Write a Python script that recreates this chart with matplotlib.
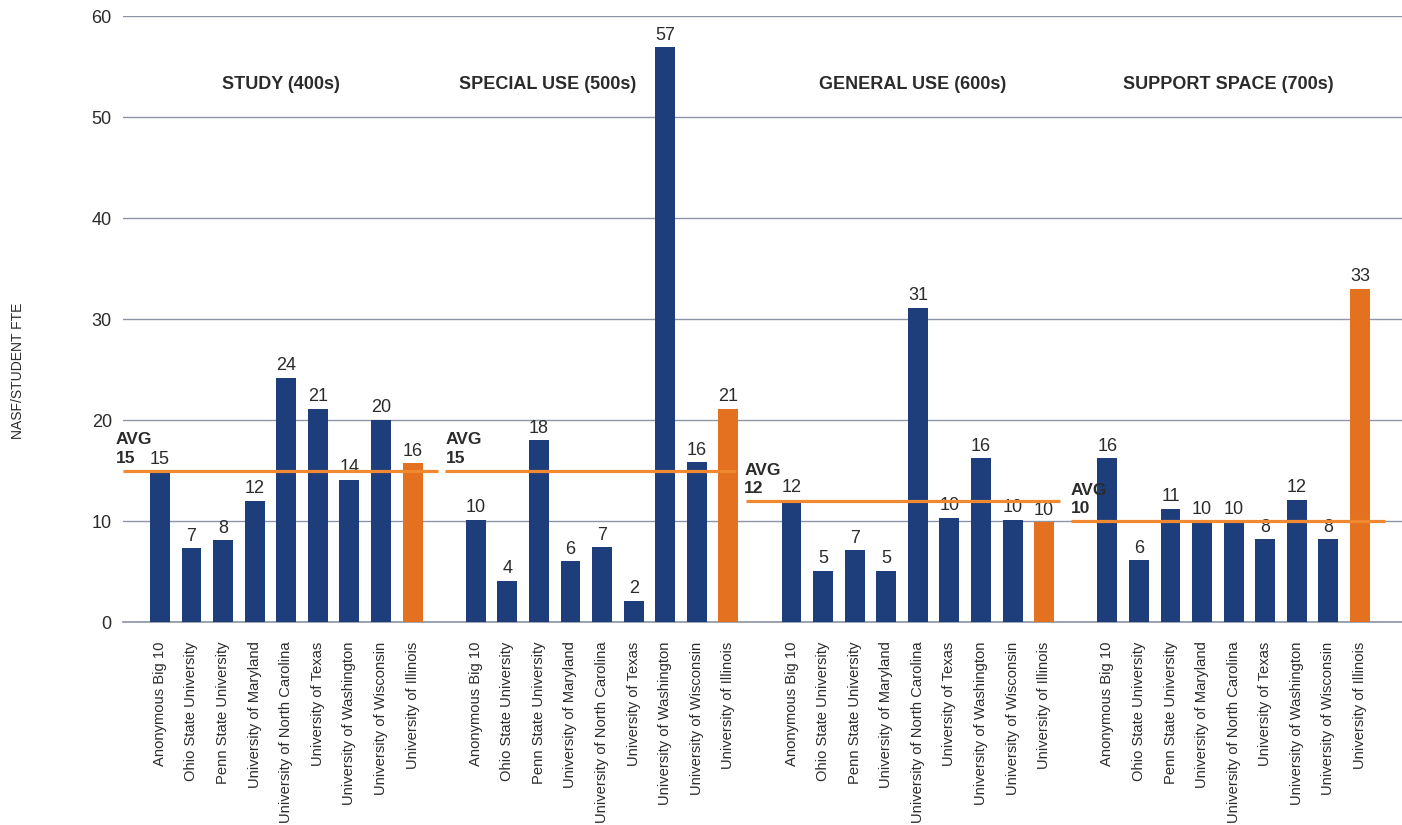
import numpy as np
import matplotlib
matplotlib.use('Agg')
import matplotlib.pyplot as plt

plt.rcParams['font.family'] = ['Liberation Sans', 'DejaVu Sans']

schools = ['Anonymous Big 10', 'Ohio State University', 'Penn State University',
           'University of Maryland', 'University of North Carolina', 'University of Texas',
           'University of Washington', 'University of Wisconsin', 'University of Illinois']

groups = ['STUDY (400s)', 'SPECIAL USE (500s)', 'GENERAL USE (600s)', 'SUPPORT SPACE (700s)']

study = [14.9, 7.3, 8.1, 12.0, 24.2, 21.1, 14.1, 20.0, 15.7]
special = [10.1, 4.1, 18.0, 6.0, 7.4, 2.1, 56.9, 15.8, 21.1]
general = [12.1, 5.1, 7.1, 5.1, 31.1, 10.3, 16.2, 10.1, 9.9]
support = [16.2, 6.1, 11.2, 10.0, 10.0, 8.2, 12.1, 8.2, 33.0]

avgs = [15, 15, 12, 10]

navy = '#1d3d7b'
orange = '#e3711f'
avg_col = '#f0892f'
grid_col = '#8c94a6'
txt = '#2b2b2b'

# where each average line starts/ends and where its label sits (slot units)
line_x0 = [-1.17, 9.02, 18.56, 28.85]
line_x1 = [8.8, 18.24, 28.5, 38.8]
avg_tx = [-1.39, 9.05, 18.5, 28.85]
title_x = [3.83, 12.29, 23.84, 33.82]

fig = plt.figure(figsize=(14.02, 8.25), dpi=100)
ax = fig.add_axes([0.0877, 0.246, 0.9123, 0.7346])

all_vals = [study, special, general, support]
xpos, xlab = [], []
for g, vals in enumerate(all_vals):
    x = np.arange(9) + g * 10
    cols = [navy] * 8 + [orange]
    ax.bar(x, vals, width=0.63, color=cols, zorder=3)
    for xi, v in zip(x, vals):
        ax.text(xi, v + 0.35, '%d' % round(v), ha='center', va='bottom',
                fontsize=13, color=txt, zorder=4)
    ax.plot([line_x0[g], line_x1[g]], [avgs[g], avgs[g]], color=avg_col,
            linewidth=2.3, zorder=5, solid_capstyle='butt')
    ax.text(avg_tx[g], avgs[g] + 0.45, 'AVG\n%d' % avgs[g], ha='left', va='bottom',
            fontsize=12.5, fontweight='bold', color=txt, linespacing=1.3, zorder=6)
    xpos += list(x)
    xlab += schools

for tx, name in zip(title_x, groups):
    ax.text(tx, 53.2, name, ha='center', va='center', fontsize=13,
            fontweight='semibold', color=txt)

ax.set_xlim(-1.17, 39.33)
ax.set_ylim(0, 60)
ax.set_yticks(np.arange(0, 61, 10))
ax.grid(axis='y', color=grid_col, linewidth=1, zorder=0)
ax.axhline(0, color=grid_col, linewidth=1.2, zorder=2, clip_on=False)
ax.set_xticks(xpos)
ax.set_xticklabels(xlab, rotation=90, fontsize=10.6, color=txt)
ax.tick_params(axis='x', length=0, pad=14)
ax.tick_params(axis='y', length=0, pad=8, labelsize=13, labelcolor=txt)
for s in ax.spines.values():
    s.set_visible(False)

fig.text(0.013, 0.55, 'NASF/STUDENT FTE', rotation=90, ha='center', va='center',
         fontsize=10, color=txt)

fig.savefig('out.png', dpi=100)
